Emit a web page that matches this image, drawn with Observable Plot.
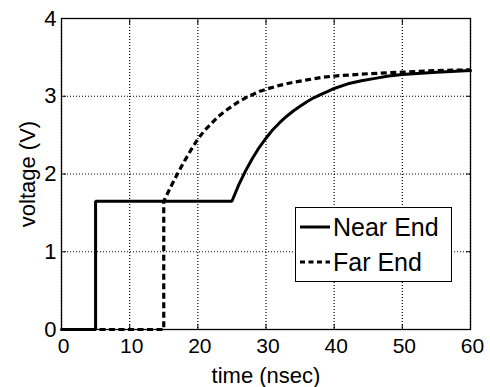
<!DOCTYPE html>
<html>
<head>
<meta charset="utf-8">
<script src="https://cdn.jsdelivr.net/npm/d3@7"></script>
<script src="https://cdn.jsdelivr.net/npm/@observablehq/plot@0.6"></script>
<style>
  html, body { margin: 0; padding: 0; background: #fff; }
  #wrap { position: relative; width: 490px; height: 387px; font-family: "Liberation Sans", Arial, sans-serif; }
  #legend { position: absolute; left: 295px; top: 207px; width: 155px; height: 73px; border: 1px solid #000; background: #fff; }
  .row { position: absolute; left: 0; height: 36px; display: flex; align-items: center; font-size: 25px; color: #000; }
  .row svg { margin-left: 4px; margin-right: 3px; }
</style>
</head>
<body>
<div id="wrap"></div>
<script>
const xTicks = [0, 10, 20, 30, 40, 50, 60];
const yTicks = [0, 1, 2, 3, 4];

const seriesNames = ["Near End", "Far End"];

const nearTime = [0, 5, 5, 25, 26, 27, 28, 29, 30, 31, 32, 33, 34, 35, 36, 37, 38, 39, 40, 42, 44, 46, 48, 50, 55, 60];
const nearVolt = [0, 0, 1.65, 1.65, 1.86, 2.04, 2.2, 2.34, 2.46, 2.57, 2.66, 2.74, 2.81, 2.87, 2.93, 2.98, 3.02, 3.06, 3.1, 3.16, 3.2, 3.23, 3.26, 3.28, 3.31, 3.33];

const farTime = [0, 15, 15, 16, 17, 18, 19, 20, 21, 22, 23, 24, 25, 26, 27, 28, 29, 30, 32, 34, 36, 38, 40, 45, 50, 55, 60];
const farVolt = [0, 0, 1.65, 1.83, 2.0, 2.16, 2.31, 2.45, 2.56, 2.65, 2.74, 2.81, 2.87, 2.93, 2.98, 3.02, 3.06, 3.09, 3.14, 3.18, 3.21, 3.24, 3.26, 3.29, 3.31, 3.33, 3.34];

const near = nearTime.map((t, i) => ({t, v: nearVolt[i]}));
const far = farTime.map((t, i) => ({t, v: farVolt[i]}));

const font = '"Liberation Sans", Arial, sans-serif';
const gridDash = "1,2";
const blank = () => "";

const chart = Plot.plot({
  width: 490,
  height: 387,
  marginLeft: 61,
  marginRight: 20,
  marginTop: 18,
  marginBottom: 58,
  style: {fontFamily: font, fontSize: "22px", color: "#000", background: "#fff"},
  x: {domain: [0, 60]},
  y: {domain: [0, 4]},
  marks: [
    Plot.gridX(xTicks, {stroke: "#000", strokeOpacity: 1, strokeDasharray: gridDash, strokeWidth: 1.2}),
    Plot.gridY(yTicks, {stroke: "#000", strokeOpacity: 1, strokeDasharray: gridDash, strokeWidth: 1.2}),
    Plot.frame({stroke: "#000", strokeWidth: 1.3}),
    Plot.axisX(xTicks, {anchor: "bottom", tickSize: -5, tickFormat: blank, label: null}),
    Plot.axisX(xTicks, {anchor: "top", tickSize: -5, tickFormat: blank, label: null}),
    Plot.axisY(yTicks, {anchor: "left", tickSize: -5, tickFormat: blank, label: null}),
    Plot.axisY(yTicks, {anchor: "right", tickSize: -5, tickFormat: blank, label: null}),
    Plot.axisX(xTicks, {tickSize: 0, tickPadding: 9, fontSize: 21, dx: 2, tickFormat: "d", label: null}),
    Plot.axisX(xTicks, {tickSize: 0, tickFormat: blank, fontSize: 22, label: "time (nsec)", labelAnchor: "center", labelOffset: 53, labelArrow: "none"}),
    Plot.axisY(yTicks, {tickSize: 0, tickPadding: 5, fontSize: 22, tickFormat: "d", label: "voltage (V)", labelAnchor: "center", labelOffset: 42, labelArrow: "none"}),
    Plot.line(far, {x: "t", y: "v", stroke: "#000", strokeWidth: 3.2, strokeDasharray: "6,3.5", strokeLinecap: "butt"}),
    Plot.line(near, {x: "t", y: "v", stroke: "#000", strokeWidth: 3, strokeLinejoin: "miter"})
  ]
});

const wrap = document.getElementById("wrap");
wrap.appendChild(chart);

const legend = document.createElement("div");
legend.id = "legend";
const dashes = ["none", "5,3.5"];
seriesNames.forEach((name, i) => {
  const row = document.createElement("div");
  row.className = "row";
  row.style.top = (i === 0 ? 1 : 36) + "px";
  row.innerHTML = `<svg width="30" height="10"><line x1="0" y1="5" x2="30" y2="5" stroke="#000" stroke-width="3" stroke-dasharray="${dashes[i]}"/></svg><span>${name}</span>`;
  legend.appendChild(row);
});
wrap.appendChild(legend);
</script>
</body>
</html>
